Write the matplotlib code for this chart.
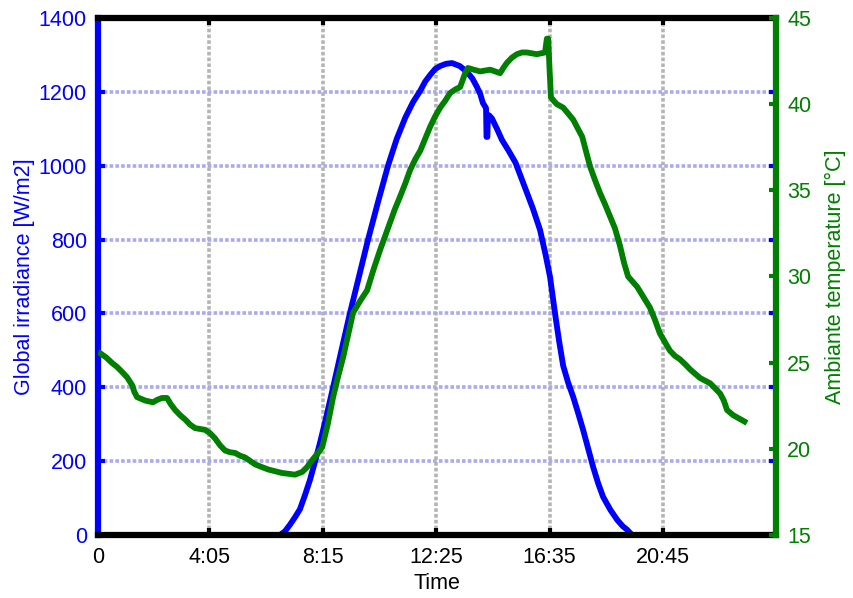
import matplotlib.pyplot as plt
import numpy as np

plt.rcParams['font.family'] = ['Liberation Sans', 'DejaVu Sans']

# time of day in minutes
xtick_pos = [0, 245, 495, 745, 995, 1245]
xtick_lab = ['0', '4:05', '8:15', '12:25', '16:35', '20:45']

# global irradiance [W/m2]
irr_t = [0, 120, 250, 401, 412, 423, 434, 445, 456, 467, 478, 489, 503, 518, 536,
         555, 575, 595, 617, 639, 658, 677, 694, 710, 721, 732, 743, 754, 767, 780,
         797, 813, 825, 835, 842, 848, 853, 855, 856, 858, 859, 862, 868, 879, 890,
         905, 920, 941, 958, 974, 986, 996, 1007, 1016, 1025, 1036, 1047, 1058, 1069,
         1080, 1091, 1102, 1113, 1129, 1144, 1156, 1166, 1172, 1177, 1250, 1350, 1437]
irr_w = [0, 0, 0, 0, 10, 28, 48, 70, 108, 149, 198, 249, 320, 400, 498,
         600, 700, 800, 902, 1000, 1072, 1130, 1172, 1203, 1228, 1246, 1262, 1270, 1276, 1278,
         1270, 1254, 1236, 1213, 1195, 1170, 1160, 1156, 1078, 1078, 1138, 1136, 1128, 1100, 1070,
         1040, 1008, 940, 885, 826, 760, 699, 600, 525, 458, 412, 374, 330, 284,
         234, 184, 140, 103, 68, 41, 24, 14, 6, 0, 0, 0, 0]

# ambient temperature [degC]
temp_t = [0, 4, 18, 31, 42, 53, 64, 75, 80, 86, 95, 104, 112, 121, 131,
          141, 152, 160, 170, 181, 192, 203, 214, 225, 236, 247, 258, 269, 280, 291,
          302, 313, 324, 335, 346, 360, 375, 390, 405, 420, 434, 450, 461, 472, 483,
          494, 506, 518, 529, 540, 551, 562, 578, 593, 607, 621, 632, 643, 654, 665,
          677, 688, 699, 710, 721, 732, 743, 754, 765, 776, 787, 798, 805, 809, 815,
          828, 842, 853, 864, 875, 886, 893, 901, 912, 923, 934, 945, 956, 967, 976,
          985, 989, 992, 995, 998, 1004, 1011, 1025, 1033, 1047, 1057, 1067, 1076, 1084,
          1095, 1106, 1117, 1128, 1139, 1150, 1159, 1168, 1178, 1188, 1202, 1216, 1227,
          1238, 1249, 1260, 1271, 1282, 1294, 1305, 1316, 1327, 1338, 1349, 1360, 1371,
          1379, 1386, 1393, 1399, 1410, 1420, 1430]
temp_c = [25.6, 25.56, 25.3, 24.98, 24.75, 24.46, 24.15, 23.7, 23.3, 23.0, 22.9, 22.8, 22.75, 22.7, 22.85,
          22.95, 22.95, 22.6, 22.25, 21.95, 21.7, 21.4, 21.2, 21.15, 21.1, 20.9, 20.6, 20.2, 19.9, 19.8,
          19.76, 19.6, 19.5, 19.3, 19.1, 18.95, 18.8, 18.7, 18.6, 18.55, 18.5, 18.66, 18.95, 19.35, 19.7,
          20.1, 21.4, 23.0, 24.2, 25.3, 26.6, 27.9, 28.6, 29.2, 30.4, 31.5, 32.3, 33.1, 33.9, 34.6,
          35.4, 36.2, 36.8, 37.3, 38.0, 38.7, 39.3, 39.8, 40.2, 40.65, 40.85, 41.0, 41.5, 41.8, 42.1,
          42.0, 41.9, 41.95, 42.0, 41.9, 41.8, 42.1, 42.4, 42.7, 42.9, 43.0, 43.0, 42.95, 42.9, 42.95,
          43.0, 43.8, 43.8, 42.0, 40.4, 40.2, 40.0, 39.8, 39.55, 39.1, 38.6, 38.1, 37.2, 36.4,
          35.6, 34.85, 34.2, 33.5, 32.8, 31.8, 30.8, 30.0, 29.7, 29.4, 28.8, 28.2, 27.5,
          26.7, 26.2, 25.7, 25.4, 25.2, 24.9, 24.6, 24.35, 24.1, 23.95, 23.8, 23.5, 23.2,
          22.8, 22.25, 22.1, 21.96, 21.8, 21.65, 21.5]

blue = '#0000ff'
green = '#007f00'

fig = plt.figure(figsize=(8.54, 5.98), dpi=100)
ax1 = fig.add_axes([0.1148, 0.1054, 0.7939, 0.8645])
ax2 = ax1.twinx()

ax1.plot(irr_t, irr_w, color=blue, lw=4.2, solid_capstyle='butt')
ax2.plot(temp_t, temp_c, color=green, lw=4.2, solid_capstyle='butt')

ax1.set_xlim(0, 1494)
ax1.set_ylim(0, 1400)
ax2.set_ylim(15, 45)

ax1.set_xticks(xtick_pos)
ax1.set_xticklabels(xtick_lab)
ax1.set_yticks(np.arange(0, 1401, 200))
ax2.set_yticks(np.arange(15, 46, 5))

# dotted grid: grey for time, light blue for irradiance
ax1.xaxis.grid(True, color='#b4b4b4', lw=2.6, linestyle=(0, (1, 0.6)))
ax1.yaxis.grid(True, color='#aaaaf0', lw=2.6, linestyle=(0, (1, 0.6)))

for s in ['top', 'bottom']:
    ax1.spines[s].set_linewidth(4.5)
    ax1.spines[s].set_color('black')
ax1.spines['left'].set_linewidth(4.5)
ax1.spines['left'].set_color(blue)
ax1.spines['right'].set_visible(False)
for s in ['top', 'bottom', 'left']:
    ax2.spines[s].set_visible(False)
ax2.spines['right'].set_linewidth(4.5)
ax2.spines['right'].set_color(green)

ax1.tick_params(axis='x', direction='in', top=True, length=5, width=3,
                colors='black', labelsize=15.5, pad=9)
ax1.tick_params(axis='y', direction='in', right=True, length=5, width=3,
                colors=blue, labelsize=15.5, pad=8)
ax2.tick_params(axis='y', direction='in', length=5, width=3,
                colors=green, labelsize=15.5, pad=8)

ax1.set_xlabel('Time', fontsize=15.5, labelpad=3)
ax1.set_ylabel('Global irradiance [W/m2]', fontsize=15.5, color=blue, labelpad=3)
ax2.set_ylabel('Ambiante temperature [°C]', fontsize=15.5, color=green, labelpad=10)

fig.savefig('out.png', dpi=100)
